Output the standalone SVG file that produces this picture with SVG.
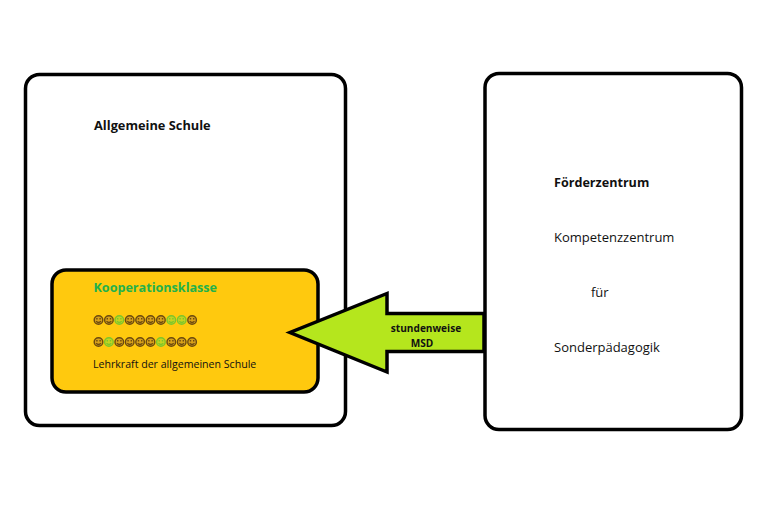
<svg xmlns="http://www.w3.org/2000/svg" width="765" height="510" viewBox="0 0 765 510">
<style>
text{font-family:"Open Sans","Noto Sans",sans-serif;fill:#111}
.b{font-weight:700}
.box{fill:#fff;stroke:#000;stroke-width:3.5}
.t{font-size:13px}
.br{fill:#d9a21a;stroke:#6b4a10;stroke-width:1.4}
.gr{fill:#c5d420;stroke:#7cc52c;stroke-width:1.4}
.f{fill:none}
</style>
<defs>
<g id="sb" class="br"><circle r="4.3"/><path class="f" d="M-2.4 1.2Q0 3.6 2.4 1.2"/><path class="f" d="M-2.3-1.3h1.4M.9-1.3h1.4"/></g>
<g id="sg" class="gr"><circle r="4.3"/><path class="f" d="M-2.4 1.2Q0 3.6 2.4 1.2"/><path class="f" d="M-2.3-1.3h1.4M.9-1.3h1.4"/></g>
</defs>
<rect width="765" height="510" fill="#fff"/>
<g id="allgemeine-schule">
<rect class="box" x="25.500" y="74.500" width="320" height="351" rx="14"/>
<text class="b" x="94" y="130" font-size="12.800">Allgemeine Schule</text>
</g>
<g id="foerderzentrum">
<rect class="box" x="485" y="73.500" width="256.500" height="356" rx="14"/>
<text class="b" x="554" y="187" font-size="12.600">Förderzentrum</text>
<text class="t" x="554" y="242">Kompetenzzentrum</text>
<text class="t" x="591" y="297">für</text>
<text class="t" x="554" y="352">Sonderpädagogik</text>
</g>
<g id="kooperationsklasse">
<rect x="52" y="270" width="266" height="122" rx="14" fill="#ffc90e" stroke="#000" stroke-width="3.500"/>
<text class="b" x="93.500" y="292" font-size="12.600" style="fill:#22b14c">Kooperationsklasse</text>
<g id="smileys-1">
<use href="#sb" x="98.500" y="320"/><use href="#sb" x="108.900" y="320"/><use href="#sg" x="119.300" y="320"/><use href="#sb" x="129.700" y="320"/><use href="#sb" x="140.100" y="320"/><use href="#sb" x="150.500" y="320"/><use href="#sb" x="160.900" y="320"/><use href="#sg" x="171.300" y="320"/><use href="#sg" x="181.700" y="320"/><use href="#sb" x="192.100" y="320"/>
</g>
<g id="smileys-2">
<use href="#sb" x="98.500" y="342"/><use href="#sg" x="108.900" y="342"/><use href="#sb" x="119.300" y="342"/><use href="#sb" x="129.700" y="342"/><use href="#sb" x="140.100" y="342"/><use href="#sb" x="150.500" y="342"/><use href="#sg" x="160.900" y="342"/><use href="#sb" x="171.300" y="342"/><use href="#sb" x="181.700" y="342"/><use href="#sb" x="192.100" y="342"/>
</g>
<text x="93" y="368" font-size="10.600">Lehrkraft der allgemeinen Schule</text>
</g>
<g id="connectors">
<path d="M484 313.500H387V293.500L290 332.500L387 372V351.500H484Z" fill="#b5e61d" stroke="#000" stroke-width="3.500" stroke-linejoin="miter"/>
<text class="b" x="426" y="332" font-size="10.100" text-anchor="middle">stundenweise</text>
<text class="b" x="422" y="347" font-size="10.100" text-anchor="middle">MSD</text>
</g>
</svg>
